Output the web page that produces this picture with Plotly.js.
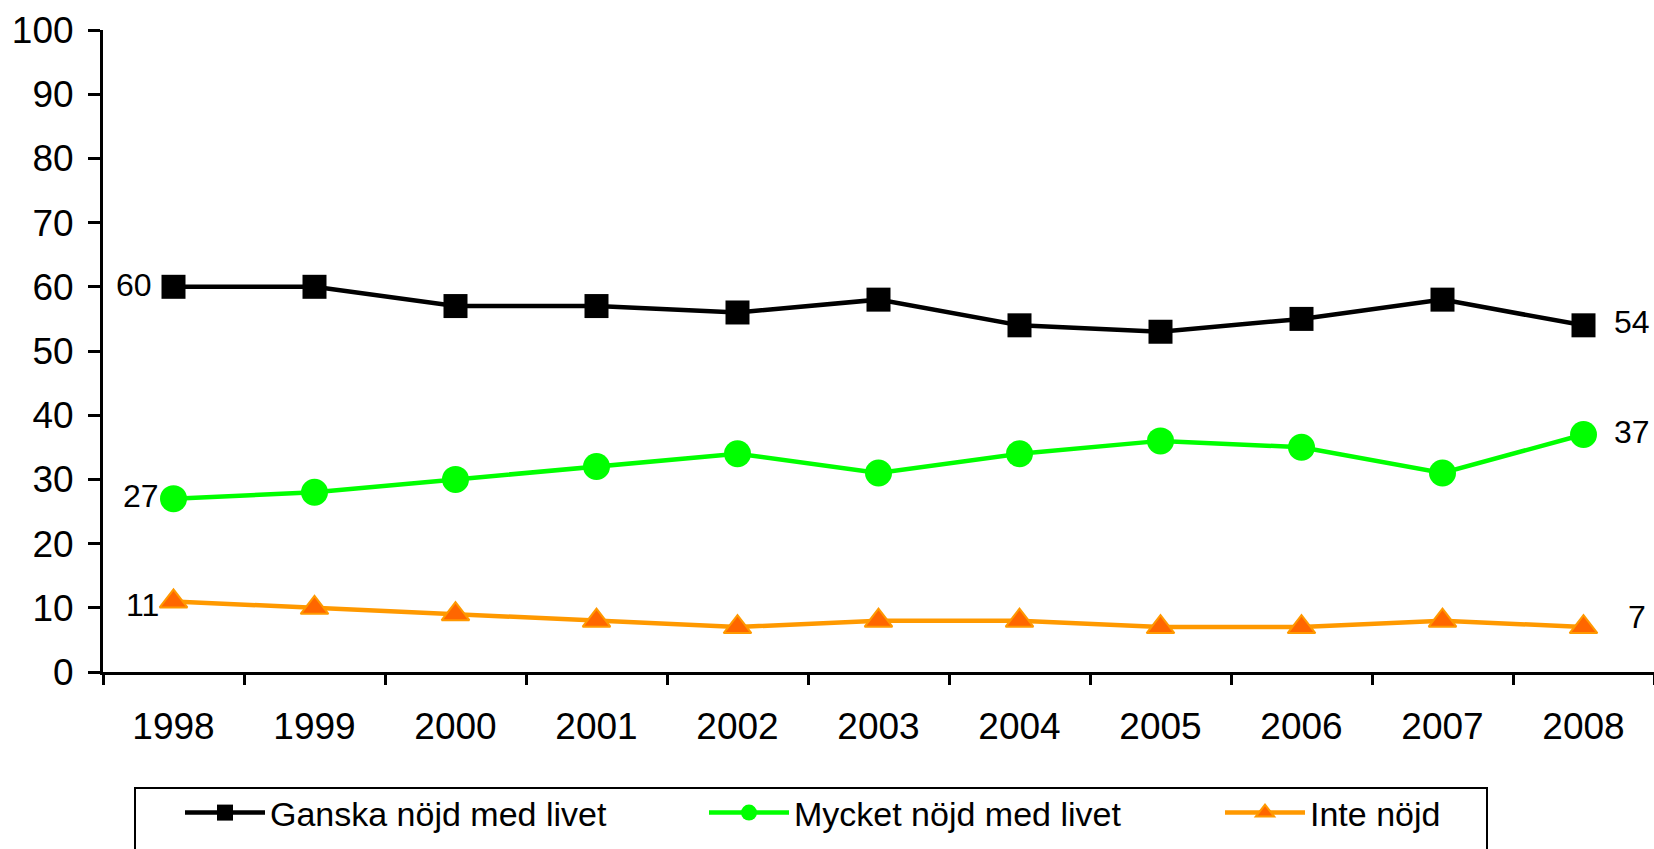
<!DOCTYPE html>
<html>
<head>
<meta charset="utf-8">
<script src="https://cdn.plot.ly/plotly-3.0.1.min.js"></script>
<style>
html,body{margin:0;padding:0;background:#fff;}
#chart{width:1654px;height:849px;}
</style>
</head>
<body>
<div id="chart"></div>
<script>
const years = ['1998','1999','2000','2001','2002','2003','2004','2005','2006','2007','2008'];
const ganska = [60,60,57,57,56,58,54,53,55,58,54];
const mycket = [27,28,30,32,34,31,34,36,35,31,37];
const inte = [11,10,9,8,7,8,8,7,7,8,7];
const seriesNames = ['Ganska nöjd med livet','Mycket nöjd med livet','Inte nöjd'];
const yTicks = [0,10,20,30,40,50,60,70,80,90,100];

const FONT = 'Arial, "Liberation Sans", sans-serif';

// end-of-series value labels, placed through the axes' data coordinates
// (on a category axis, annotation x is the category's serial index)
function endLabels(vals, leftShift, leftY, rightShift, rightY) {
  const n = vals.length - 1;
  const common = {xref: 'x', yref: 'y', showarrow: false,
    font: {family: FONT, size: 32, color: '#000'}};
  return [
    Object.assign({x: 0, y: vals[0], text: String(vals[0]),
      xanchor: 'right', xshift: leftShift, yshift: leftY}, common),
    Object.assign({x: n, y: vals[n], text: String(vals[n]),
      xanchor: 'left', xshift: rightShift, yshift: rightY}, common)
  ];
}

const traces = [
  {
    x: years, y: ganska, name: seriesNames[0], mode: 'lines+markers',
    line: {color: '#000000', width: 4.5},
    marker: {symbol: 'square', size: 24, color: '#000000'},
    cliponaxis: false, legend: 'legend'
  },
  {
    x: years, y: mycket, name: seriesNames[1], mode: 'lines+markers',
    line: {color: '#00FF00', width: 4.5},
    marker: {symbol: 'circle', size: 27, color: '#00FF00'},
    cliponaxis: false, legend: 'legend'
  },
  {
    x: years, y: inte, name: seriesNames[2], mode: 'lines+markers',
    line: {color: '#FF9900', width: 4.5},
    marker: {symbol: 'triangle-up', size: 24, color: '#FF6600', line: {color: '#FF9900', width: 2}},
    cliponaxis: false, legend: 'legend2'
  }
];

const annotations = [].concat(
  endLabels(ganska, -20, 2, 28, 3),
  endLabels(mycket, -13, 3, 28, 2),
  endLabels(inte, -13, -4, 42, 10)
);

const legendBase = {
  orientation: 'h',
  xref: 'container', yref: 'container',
  y: 1 - 784/849, xanchor: 'left', yanchor: 'top',
  font: {family: FONT, size: 34, color: '#000'},
  itemwidth: 80,
  bgcolor: 'rgba(0,0,0,0)', borderwidth: 0
};

const layout = {
  width: 1654, height: 849,
  margin: {l: 103, r: 0, t: 30, b: 177},
  paper_bgcolor: '#fff', plot_bgcolor: '#fff',
  font: {family: FONT, color: '#000'},
  showlegend: true,
  annotations: annotations,
  xaxis: {
    type: 'category',
    range: [-0.5, 10.5],
    showline: true, linecolor: '#000', linewidth: 3,
    ticks: 'outside', tickson: 'boundaries', ticklen: 10, tickwidth: 3, tickcolor: '#000',
    tickfont: {family: FONT, size: 37, color: '#000'},
    ticklabelstandoff: 20,
    showgrid: false, zeroline: false, fixedrange: true
  },
  yaxis: {
    range: [0, 100],
    tickvals: yTicks, ticktext: yTicks.map(String),
    showline: true, linecolor: '#000', linewidth: 3,
    ticks: 'outside', ticklen: 12, tickwidth: 3, tickcolor: '#000',
    tickfont: {family: FONT, size: 37, color: '#000'},
    ticklabelstandoff: 7,
    showgrid: false, zeroline: false, fixedrange: true
  },
  legend: Object.assign({}, legendBase, {
    x: 180/1654, entrywidthmode: 'pixels', entrywidth: 429
  }),
  legend2: Object.assign({}, legendBase, {
    x: 1220/1654
  }),
  shapes: [{
    type: 'rect', xref: 'paper', yref: 'paper',
    x0: (135-103)/1551, x1: (1487-103)/1551,
    y0: (672-788)/642, y1: (672-870)/642,
    line: {color: '#000', width: 2}, fillcolor: 'rgba(0,0,0,0)', layer: 'below'
  }]
};

Plotly.newPlot('chart', traces, layout, {displayModeBar: false, staticPlot: true});
</script>
</body>
</html>
